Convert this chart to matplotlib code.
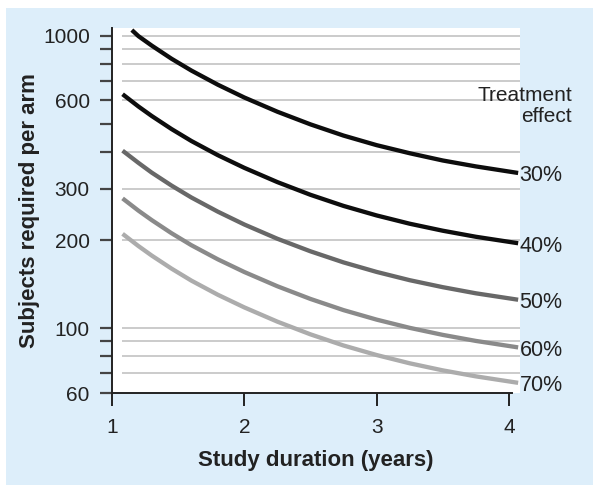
import matplotlib
matplotlib.use("Agg")
import matplotlib.pyplot as plt
from matplotlib.patches import Rectangle
from matplotlib.ticker import FixedLocator, NullFormatter

plt.rcParams['font.family'] = ['Liberation Sans', 'DejaVu Sans']

# study duration (years) and subjects required per arm
years = [1.08, 1.2, 1.3, 1.45, 1.6, 1.8, 2.0, 2.25, 2.5, 2.75, 3.0, 3.25, 3.5, 3.75, 4.07]
years_30 = [1.15, 1.2, 1.3, 1.45, 1.6, 1.8, 2.0, 2.25, 2.5, 2.75, 3.0, 3.25, 3.5, 3.75, 4.07]
n_30 = [1044, 995, 924, 833, 759, 679, 614, 549, 497, 455, 422, 396, 374, 357, 339]
n_40 = [630, 572, 531, 479, 436, 390, 353, 315.5, 285.5, 261.6, 242.7, 227.4, 215.2, 205.2, 195]
n_50 = [404, 367, 340, 307, 279.5, 250, 226, 202, 183, 167.7, 155.6, 145.8, 138, 131.5, 125]
n_60 = [277.5, 252, 234, 211, 192, 171.8, 155.5, 139, 125.8, 115.2, 106.9, 100.2, 94.8, 90.4, 85.9]
n_70 = [210, 190.7, 177, 159.7, 145.3, 130, 117.7, 105.2, 95.2, 87.2, 80.9, 75.8, 71.7, 68.4, 65]
effects = ["30%", "40%", "50%", "60%", "70%"]

y_major = [60, 100, 200, 300, 600, 1000]
y_minor = [70, 80, 90, 400, 500, 700, 800, 900]
grid_vals = [70, 80, 90, 100, 200, 300, 400, 600, 700, 800, 900, 1000]
x_ticks = [1, 2, 3, 4]

W, H = 600, 494
fig = plt.figure(figsize=(W / 100, H / 100), dpi=100, facecolor="white")
fig.patches.append(Rectangle((6 / W, 1 - 485 / H), 587 / W, 477 / H,
                             transform=fig.transFigure, facecolor="#ddeefa",
                             edgecolor="none", zorder=-10))

ax = fig.add_axes([112 / W, 1 - 393 / H, 408 / W, 365 / H])
ax.set_facecolor("white")
ax.set_yscale("log")
ax.set_xlim(1, 4.084)
ax.set_ylim(60, 1061)

ax.hlines(grid_vals, 1.076, 4.084, colors="#bdbdbd", lw=1.1, zorder=1)

series = [(years_30, n_30, "#0d0d0d"), (years, n_40, "#0d0d0d"),
          (years, n_50, "#686868"), (years, n_60, "#8a8a8a"),
          (years, n_70, "#acacac")]
for (xs, ys, col), lab in zip(series, effects):
    ax.plot(xs, ys, color=col, lw=3.1, solid_capstyle="butt",
            solid_joinstyle="round", zorder=3)
    ax.annotate(lab, xy=(xs[-1], ys[-1]), xytext=(1, -2), textcoords="offset points",
                ha="left", va="center", fontsize=15.5, color="#222222",
                annotation_clip=False)

fig.text(572 / W, 1 - 86 / H, "Treatment\neffect", ha="right", va="top",
         multialignment="right", fontsize=15, color="#222222", linespacing=1.15)

for s in ["top", "right"]:
    ax.spines[s].set_visible(False)
ax.spines["left"].set_color("#222222")
ax.spines["bottom"].set_color("#222222")
ax.spines["left"].set_linewidth(1.4)
ax.spines["bottom"].set_linewidth(1.4)
ax.spines["bottom"].set_bounds(1, 4.02)

ax.yaxis.set_major_locator(FixedLocator(y_major))
ax.yaxis.set_minor_locator(FixedLocator(y_minor))
ax.yaxis.set_minor_formatter(NullFormatter())
ax.set_yticklabels([str(v) for v in y_major])
ax.tick_params(axis="y", which="both", length=9, width=1.6, color="#444444",
               pad=7, labelsize=15, labelcolor="#222222")
ax.set_xticks(x_ticks)
ax.set_xticklabels([str(v) for v in x_ticks])
ax.tick_params(axis="x", length=9, width=1.4, color="#222222", pad=9,
               labelsize=15, labelcolor="#222222")

ax.set_xlabel("Study duration (years)", fontsize=16, fontweight="bold",
              color="#222222", labelpad=9)
ax.set_ylabel("Subjects required per arm", fontsize=16, fontweight="bold",
              color="#222222", labelpad=2)

fig.savefig("out.png", dpi=100)
